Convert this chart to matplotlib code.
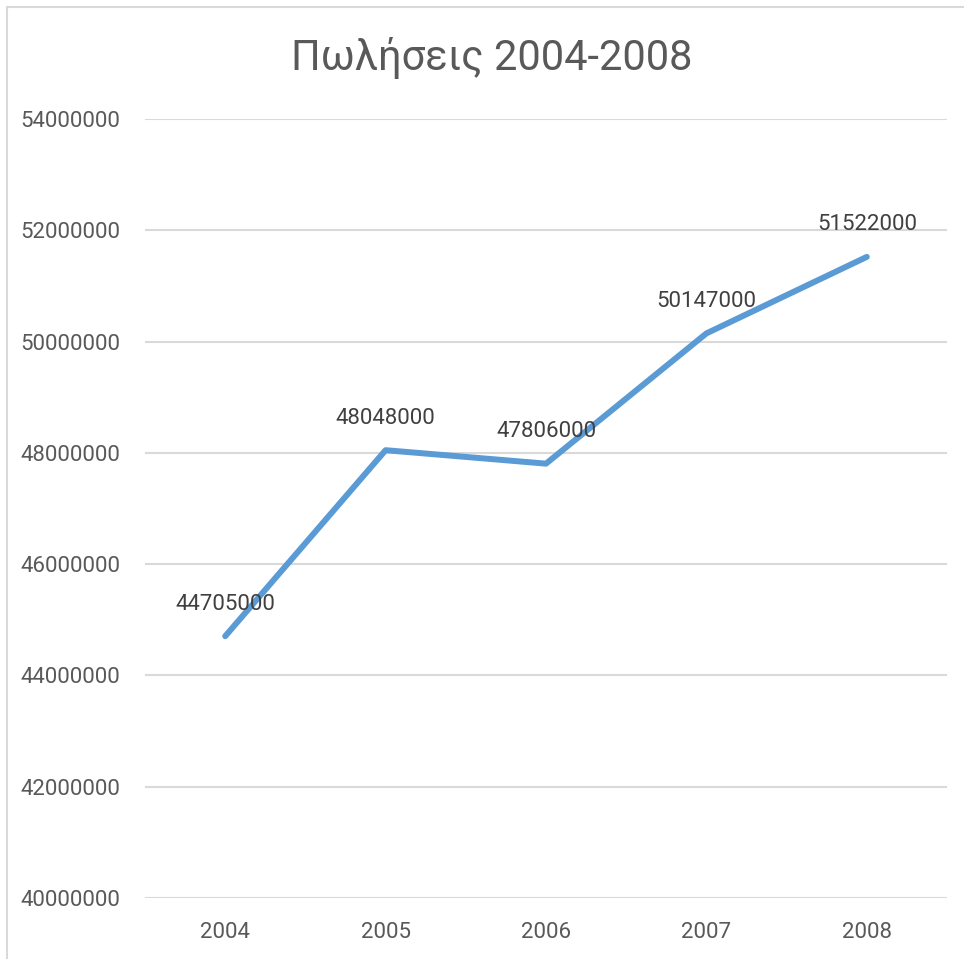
import matplotlib
matplotlib.use("Agg")
import matplotlib.pyplot as plt
from matplotlib.patches import Rectangle
from matplotlib import font_manager as fm

years = ["2004", "2005", "2006", "2007", "2008"]
sales = [44705000, 48048000, 47806000, 50147000, 51522000]
yticks = [40000000, 42000000, 44000000, 46000000, 48000000, 50000000, 52000000, 54000000]
title = "Πωλήσεις 2004-2008"

avail = {f.name for f in fm.fontManager.ttflist}
fam = "Liberation Sans Narrow" if "Liberation Sans Narrow" in avail else "Roboto"
plt.rcParams['font.family'] = [fam, 'DejaVu Sans']

W, H = 964, 959
fig = plt.figure(figsize=(W/100, H/100), dpi=100)
# plot area in pixels: x 145..947, y 119..898
ax = fig.add_axes([145/W, 1-898/H, (947-145)/W, (898-119)/H])

x = list(range(len(years)))
ax.plot(x, sales, color="#5B9BD5", lw=4.3, solid_capstyle="round", solid_joinstyle="round", zorder=3)
for xi, v in zip(x, sales):
    ax.annotate(f"{v}", (xi, v), xytext=(0, 23), textcoords="offset points",
                ha="center", va="center", fontsize=16, color="#404040", zorder=4)

ax.set_xlim(-0.5, len(years)-0.5)
ax.set_ylim(yticks[0], yticks[-1])
ax.set_yticks(yticks)
ax.set_yticklabels([str(t) for t in yticks])
ax.set_xticks(x)
ax.set_xticklabels(years)
ax.grid(axis="y", color="#D9D9D9", lw=1.5)
ax.set_axisbelow(True)
for s in ax.spines.values():
    s.set_visible(False)
ax.tick_params(axis="both", length=0, labelsize=16, labelcolor="#595959")
ax.tick_params(axis="y", pad=18)
ax.tick_params(axis="x", pad=17)

fig.text(492/W, 1-58/H, title, ha="center", va="center", fontsize=30, color="#595959")

fig.patches.append(Rectangle((7/W, -0.1), 1.2, 1-7/H+0.1, transform=fig.transFigure,
                             fill=False, edgecolor="#D9D9D9", lw=1.5))
fig.savefig("out.png", dpi=100)
